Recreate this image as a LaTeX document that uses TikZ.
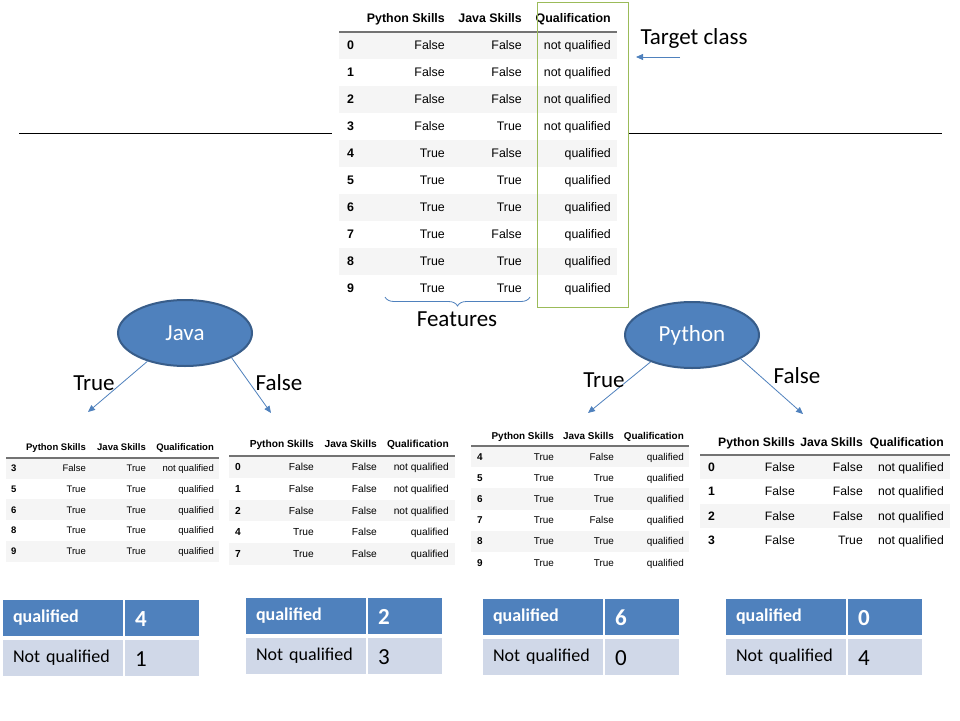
\documentclass[tikz,border=0pt]{standalone}
\usepackage{fontspec}
\setmainfont{Liberation Sans}
\newfontfamily\calibri{Carlito}
\usetikzlibrary{shapes.geometric,arrows.meta,decorations.pathreplacing,positioning}

\definecolor{officeblue}{HTML}{4F81BD}
\definecolor{officedark}{HTML}{385D8A}
\definecolor{officelight}{HTML}{D0D8E8}
\definecolor{officegreen}{HTML}{9BBB59}
\definecolor{stripe}{HTML}{F5F5F5}

\tikzset{
	cell/.style={inner sep=0pt, font=\fontsize{\fs}{\fs}\selectfont},
	bcell/.style={inner sep=0pt, font=\fontsize{\fs}{\fs}\selectfont\bfseries},
	txt/.style={inner sep=0pt, anchor=base, font=\calibri\fontsize{23}{23}\selectfont},
	split/.style={ellipse, fill=officeblue, draw=officedark, line width=2pt,
		minimum width=134pt, minimum height=66pt, text=white,
		font=\calibri\fontsize{23}{23}\selectfont},
	branch/.style={officeblue, line width=0.8pt, -{Triangle[length=7pt,width=6pt]}},
	qcell/.style={outer sep=0pt, inner xsep=10pt, minimum height=36pt, align=left},
	qhead/.style={qcell, fill=officeblue, text=white, font=\calibri\fontsize{18}{18}\selectfont\bfseries, text height=12pt, text depth=4pt},
	qhnum/.style={qcell, fill=officeblue, text=white, font=\calibri\fontsize{23}{23}\selectfont\bfseries, text height=17pt, text depth=0pt},
	qrow/.style={qcell, fill=officelight, font=\calibri\fontsize{18}{18}\selectfont, text height=12pt, text depth=4pt},
	qrnum/.style={qcell, fill=officelight, font=\calibri\fontsize{23}{23}\selectfont, text height=17pt, text depth=0pt}
}

% rows of a data frame, origin = left end of the header rule
\newcommand{\tabrows}[2]{%
	\foreach \ix/\py/\ja/\qu [count=\k from 0] in {#2}{
		\ifodd\k\else\fill[stripe] (0,\k*\rh) rectangle (\w,\k*\rh+\rh);\fi
		\node[bcell, anchor=base west] (#1-\k-i) at (\ci,\k*\rh+0.5*\rh+0.36*\fs) {\ix};
		\node[cell, anchor=base east] (#1-\k-p) at (\cp,\k*\rh+0.5*\rh+0.36*\fs) {\py};
		\node[cell, anchor=base east] (#1-\k-j) at (\cj,\k*\rh+0.5*\rh+0.36*\fs) {\ja};
		\node[cell, anchor=base east] (#1-\k-q) at (\cq,\k*\rh+0.5*\rh+0.36*\fs) {\qu};
	}
}
\newcommand{\tabhead}[1]{%
	\draw[black!55, line width=1.3pt] (0,0) -- (\w,0);
	\node[bcell, anchor=base east] (#1-hp) at (\cp,-\hh+0.36*\fs) {Python Skills};
	\node[bcell, anchor=base east] (#1-hj) at (\cj,-\hh+0.36*\fs) {Java Skills};
	\node[bcell, anchor=base east] (#1-hq) at (\cq,-\hh+0.36*\fs) {Qualification};
}
% counts of the target class in one leaf
\newcommand{\counttable}[4]{%
	\node[qhead, text width=100pt, anchor=north west] (#1-q) at (#2) {qualified};
	\node[qhnum, text width=54pt, right=2pt of #1-q] (#1-qn) {#3};
	\node[qrow, text width=100pt, below=4pt of #1-q] (#1-n) {Not qualified};
	\node[qrnum, text width=54pt, right=2pt of #1-n] (#1-nn) {#4};
}

\begin{document}
\begin{tikzpicture}[x=1pt, y=-1pt]
	\fill[white] (0,0) rectangle (960,720);

	% full data set
	\begin{scope}[shift={(339,32)}]
		\def\fs{12.4}\def\w{278}\def\rh{27}\def\hh{14}
		\def\ci{8}\def\cp{106}\def\cj{183}\def\cq{272}
		\tabrows{m}{0/False/False/not qualified, 1/False/False/not qualified,
			2/False/False/not qualified, 3/False/True/not qualified,
			4/True/False/qualified, 5/True/True/qualified, 6/True/True/qualified,
			7/True/False/qualified, 8/True/True/qualified, 9/True/True/qualified}
		\tabhead{m}
	\end{scope}
	\node[draw=officegreen, line width=1pt, minimum width=91pt, minimum height=305pt, anchor=north west] (target) at (537,2) {};
	\draw (19,133) -- (332,133) (target.east |- 0,133) -- (942,133);

	\node[txt] (tclass) at (694,44) {Target class};
	\coordinate (tca) at (680,57);
	\coordinate (tcb) at (636,57);
	\draw[branch] (tca) -- (tcb);

	\draw[officeblue, line width=0.8pt, decorate, decoration={brace, amplitude=9pt}] (530,297) -- (385,297);
	\node[txt] (features) at (457,326) {Features};

	% splits
	\node[split] (java) at (185,333) {Java};
	\node[split] (python) at (692,335) {Python};
	\coordinate (jt) at (88,412);
	\coordinate (jf) at (271,413);
	\coordinate (pt) at (588,413);
	\coordinate (pf) at (803,414);
	\draw[branch] (java.217) -- (jt);
	\draw[branch] (java.332) -- (jf);
	\draw[branch] (python.213) -- (pt);
	\draw[branch] (python.334) -- (pf);
	\node[txt] (jtrue) at (94,390) {True};
	\node[txt] (jfalse) at (279,390) {False};
	\node[txt] (ptrue) at (604,387) {True};
	\node[txt] (pfalse) at (797,383) {False};

	% leaves
	\begin{scope}[shift={(6,458)}]
		\def\fs{9.5}\def\w{213}\def\rh{20.7}\def\hh{11}
		\def\ci{5}\def\cp{80}\def\cj{140}\def\cq{208}
		\tabrows{jt}{3/False/True/not qualified, 5/True/True/qualified,
			6/True/True/qualified, 8/True/True/qualified, 9/True/True/qualified}
		\tabhead{jt}
	\end{scope}
	\begin{scope}[shift={(229,456)}]
		\def\fs{10.2}\def\w{226}\def\rh{21.8}\def\hh{12}
		\def\ci{6}\def\cp{85}\def\cj{148}\def\cq{220}
		\tabrows{jf}{0/False/False/not qualified, 1/False/False/not qualified,
			2/False/False/not qualified, 4/True/False/qualified, 7/True/False/qualified}
		\tabhead{jf}
	\end{scope}
	\begin{scope}[shift={(471,446)}]
		\def\fs{9.9}\def\w{218}\def\rh{21.2}\def\hh{10}
		\def\ci{6}\def\cp{83}\def\cj{143}\def\cq{213}
		\tabrows{pt}{4/True/False/qualified, 5/True/True/qualified, 6/True/True/qualified,
			7/True/False/qualified, 8/True/True/qualified, 9/True/True/qualified}
		\tabhead{pt}
	\end{scope}
	\begin{scope}[shift={(700,455)}]
		\def\fs{12.2}\def\w{250}\def\rh{24.3}\def\hh{13}
		\def\ci{8}\def\cp{95}\def\cj{163}\def\cq{244}
		\tabrows{pf}{0/False/False/not qualified, 1/False/False/not qualified,
			2/False/False/not qualified, 3/False/True/not qualified}
		\tabhead{pf}
	\end{scope}

	\counttable{c1}{3,600}{4}{1}
	\counttable{c2}{246,598}{2}{3}
	\counttable{c3}{483,599}{6}{0}
	\counttable{c4}{726,599}{0}{4}
\end{tikzpicture}
\end{document}
